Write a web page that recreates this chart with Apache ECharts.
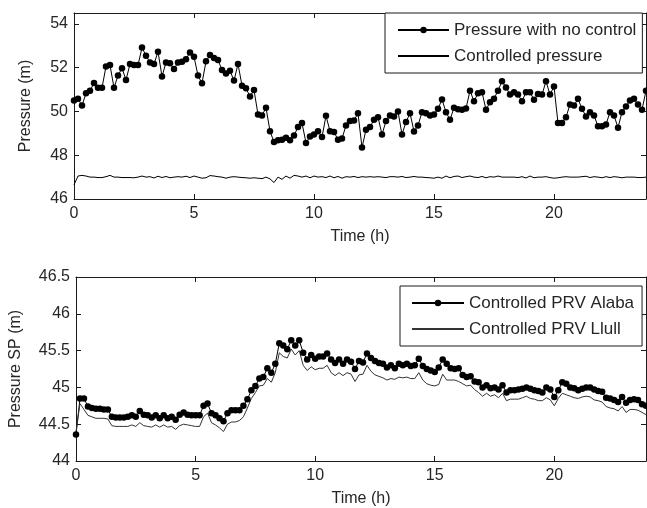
<!DOCTYPE html>
<html>
<head>
<meta charset="utf-8">
<script src="https://cdn.jsdelivr.net/npm/echarts@6/dist/echarts.min.js"></script>
<style>html,body{margin:0;padding:0;background:#fff;}#c{width:647px;height:508px;}</style>
</head>
<body>
<div id="c"></div>
<script>
// sample times: every 10 minutes over 24 h (hours)
const STEPS = 144;
const times = Array.from({length: STEPS}, (_, i) => i / 6);
const xTicks = [0, 5, 10, 15, 20];

const seriesNames = ["Pressure with no control", "Controlled pressure"];
const seriesNames2 = ["Controlled PRV Alaba", "Controlled PRV Llull"];

const noControl = [
50.5,50.58,50.27,50.83,50.95,51.3,51.08,51.08,52.06,52.12,51.08,51.64,51.98,51.44,52.17,52.12,52.12,52.92,52.55,52.24,
52.17,52.73,51.6,52.24,52.2,51.94,52.24,52.27,52.39,52.7,52.5,51.64,51.29,52.29,52.58,52.44,52.35,51.9,51.74,51.86,
51.41,52.17,51.18,51.06,50.68,50.98,49.86,49.82,50.17,49.1,48.6,48.68,48.71,48.8,48.68,48.9,49.29,49.47,48.56,48.86,
48.95,49.1,48.83,49.8,49.1,49.06,48.71,48.76,49.36,49.56,49.59,49.92,48.35,49.17,49.29,49.62,49.74,48.95,49.56,49.82,
49.77,50.0,48.95,49.52,49.92,49.09,49.36,49.97,49.92,49.82,49.86,50.12,50.55,49.97,49.62,50.17,50.1,50.08,50.14,50.95,
50.47,50.83,50.88,50.08,50.42,50.58,50.95,51.38,51.1,50.77,50.88,50.77,50.47,50.88,50.88,50.53,50.8,50.77,51.38,50.77,
51.14,49.47,49.47,49.74,50.32,50.27,50.58,50.12,49.77,49.97,49.82,49.32,49.32,49.41,49.97,49.82,49.26,49.97,50.23,50.5,
50.58,50.32,50.08,50.95];

const controlled = [
46.65,47.05,47.08,47.05,47.0,47.0,46.98,46.98,47.02,47.08,47.0,47.0,46.98,46.98,46.98,46.97,47.0,47.05,47.0,47.02,
46.96,47.04,46.98,47.03,46.97,47.0,47.02,47.0,47.04,46.98,47.05,47.0,46.95,46.97,47.07,47.05,47.02,47.0,46.95,47.0,
47.02,47.0,46.98,46.97,46.95,46.97,46.95,46.93,47.0,46.92,46.75,47.0,46.9,47.05,46.95,47.08,47.05,47.0,47.05,46.97,
47.05,47.0,47.02,46.98,47.05,46.97,47.03,46.95,47.02,47.0,47.03,46.98,47.02,47.0,47.02,47.0,47.02,47.0,46.98,47.02,
47.02,47.0,47.03,46.98,47.0,47.03,47.0,47.0,46.98,46.97,46.95,47.0,46.95,47.05,46.97,47.03,47.05,46.98,47.02,47.05,
47.0,46.98,47.03,46.97,47.02,47.0,47.05,47.0,47.0,47.0,47.0,46.98,47.02,46.96,47.05,46.97,47.0,47.0,47.02,46.98,
46.95,46.97,47.0,47.02,47.0,47.0,47.0,47.02,47.04,46.98,47.02,47.0,46.97,47.02,46.98,47.02,47.0,46.97,47.0,47.0,
47.0,46.98,46.98,47.0];

const alaba = [
44.36,44.85,44.85,44.74,44.72,44.71,44.71,44.7,44.7,44.6,44.59,44.59,44.59,44.6,44.62,44.6,44.68,44.63,44.62,44.59,
44.62,44.58,44.62,44.58,44.6,44.56,44.63,44.66,44.63,44.62,44.62,44.62,44.75,44.78,44.65,44.62,44.58,44.54,44.65,44.69,
44.69,44.69,44.75,44.84,44.96,45.02,45.12,45.14,45.26,45.2,45.32,45.6,45.57,45.52,45.64,45.57,45.64,45.47,45.38,45.44,
45.39,45.42,45.42,45.46,45.38,45.33,45.38,45.32,45.38,45.35,45.25,45.36,45.34,45.46,45.4,45.36,45.33,45.32,45.27,45.3,
45.26,45.32,45.3,45.32,45.29,45.3,45.39,45.29,45.25,45.23,45.21,45.27,45.38,45.32,45.26,45.25,45.26,45.17,45.14,45.15,
45.08,45.07,45.0,45.03,44.99,45.0,44.97,45.03,44.93,44.96,44.96,44.97,44.98,45.0,44.98,44.96,44.95,44.93,45.0,44.97,
44.87,44.96,45.07,45.05,45.0,44.99,44.96,44.98,45.0,45.0,44.97,44.95,44.94,44.86,44.85,44.83,44.8,44.87,44.79,44.83,
44.84,44.83,44.77,44.75];

const llull = [
44.4,44.78,44.7,44.62,44.6,44.58,44.58,44.58,44.57,44.48,44.47,44.47,44.47,44.47,44.49,44.47,44.52,44.48,44.47,44.46,
44.49,44.46,44.49,44.46,44.47,44.43,44.48,44.5,44.49,44.48,44.47,44.47,44.6,44.65,44.52,44.49,44.45,44.4,44.5,44.53,
44.53,44.55,44.6,44.72,44.85,44.93,45.02,45.03,45.12,45.07,45.2,45.47,45.42,45.4,45.52,45.44,45.5,45.3,45.23,45.28,
45.24,45.26,45.26,45.3,45.2,45.16,45.2,45.16,45.2,45.18,45.08,45.17,45.18,45.3,45.22,45.17,45.15,45.13,45.1,45.12,
45.11,45.14,45.13,45.14,45.12,45.12,45.2,45.1,45.05,45.03,45.02,45.04,45.18,45.1,45.1,45.1,45.08,45.05,45.02,45.03,
44.97,44.93,44.88,44.92,44.88,44.9,44.86,44.92,44.82,44.84,44.84,44.84,44.86,44.88,44.85,44.84,44.82,44.82,44.86,44.83,
44.75,44.85,44.92,44.9,44.88,44.86,44.85,44.87,44.88,44.87,44.83,44.82,44.8,44.74,44.72,44.71,44.68,44.74,44.66,44.7,
44.7,44.69,44.66,44.63];

const pair = (arr) => arr.map((v, i) => [times[i], v]);
const XMAX = times[times.length - 1];
const AX = '#1a1a1a';
const TXT = '#262626';
const FONT = 'Liberation Sans, Arial, sans-serif';

function xAx(gi, pos, withLabels, name) {
  return {
    type: 'value', gridIndex: gi, position: pos, min: 0, max: XMAX, interval: 5,
    name: name || '', nameLocation: 'middle', nameGap: 30,
    nameTextStyle: {fontSize: 16, color: TXT, fontFamily: FONT},
    axisLine: {show: true, onZero: false, lineStyle: {color: AX, width: 1}},
    axisTick: {show: true, inside: true, length: 5, lineStyle: {color: AX}},
    axisLabel: {show: withLabels, fontSize: 16, color: TXT, fontFamily: FONT, margin: 7, showMaxLabel: false},
    splitLine: {show: false}
  };
}
function yAx(gi, pos, min, max, interval, withLabels, name, gap) {
  return {
    type: 'value', gridIndex: gi, position: pos, min: min, max: max, interval: interval,
    name: name || '', nameLocation: 'middle', nameGap: gap || 40,
    nameTextStyle: {fontSize: 16, color: TXT, fontFamily: FONT},
    axisLine: {show: true, onZero: false, lineStyle: {color: AX, width: 1}},
    axisTick: {show: true, inside: true, length: 5, lineStyle: {color: AX}},
    axisLabel: {show: withLabels, fontSize: 16, color: TXT, fontFamily: FONT, margin: 6, showMaxLabel: max % interval === 0},
    splitLine: {show: false}
  };
}

const chart = echarts.init(document.getElementById('c'), null, {renderer: 'canvas'});
chart.setOption({
  animation: false,
  backgroundColor: '#fff',
  textStyle: {fontFamily: FONT},
  grid: [
    {left: 74, top: 13, width: 572, height: 186},
    {left: 74, top: 277, width: 572, height: 187}
  ],
  xAxis: [
    xAx(0, 'bottom', true, 'Time (h)'),
    xAx(0, 'top', false),
    xAx(1, 'bottom', true, 'Time (h)'),
    xAx(1, 'top', false)
  ],
  yAxis: [
    yAx(0, 'left', 46, 54.5, 2, true, 'Pressure (m)', 40),
    yAx(0, 'right', 46, 54.5, 2, false),
    yAx(1, 'left', 44, 46.5, 0.5, true, 'Pressure SP (m)', 52),
    yAx(1, 'right', 44, 46.5, 0.5, false)
  ],
  legend: [
    {
      data: [seriesNames[0], {name: seriesNames[1], itemStyle: {opacity: 0}}],
      orient: 'vertical', left: 385, top: 13,
      padding: [8, 6, 8, 12], itemGap: 8, itemWidth: 51, itemHeight: 8,
      borderColor: AX, borderWidth: 1, backgroundColor: '#fff',
      textStyle: {fontSize: 17, color: TXT, fontFamily: FONT, lineHeight: 18}
    },
    {
      data: [seriesNames2[0], {name: seriesNames2[1], itemStyle: {opacity: 0}}],
      orient: 'vertical', left: 400, top: 286,
      padding: [8, 8, 8, 11], itemGap: 8, itemWidth: 52, itemHeight: 8,
      borderColor: AX, borderWidth: 1, backgroundColor: '#fff',
      textStyle: {fontSize: 17, color: TXT, fontFamily: FONT, lineHeight: 18}
    }
  ],
  series: [
    {name: seriesNames[0], type: 'line', xAxisIndex: 0, yAxisIndex: 0, data: pair(noControl),
     symbol: 'circle', symbolSize: 6.5, showSymbol: true, color: '#000',
     lineStyle: {color: '#000', width: 1}, itemStyle: {color: '#000'}},
    {name: seriesNames[1], type: 'line', xAxisIndex: 0, yAxisIndex: 0, data: pair(controlled),
     symbol: 'none', color: '#000', lineStyle: {color: '#000', width: 1}},
    {name: seriesNames2[0], type: 'line', xAxisIndex: 2, yAxisIndex: 2, data: pair(alaba),
     symbol: 'circle', symbolSize: 6.5, showSymbol: true, color: '#000',
     lineStyle: {color: '#000', width: 1}, itemStyle: {color: '#000'}},
    {name: seriesNames2[1], type: 'line', xAxisIndex: 2, yAxisIndex: 2, data: pair(llull),
     symbol: 'none', color: '#333', lineStyle: {color: '#333', width: 1}}
  ]
});
</script>
</body>
</html>
